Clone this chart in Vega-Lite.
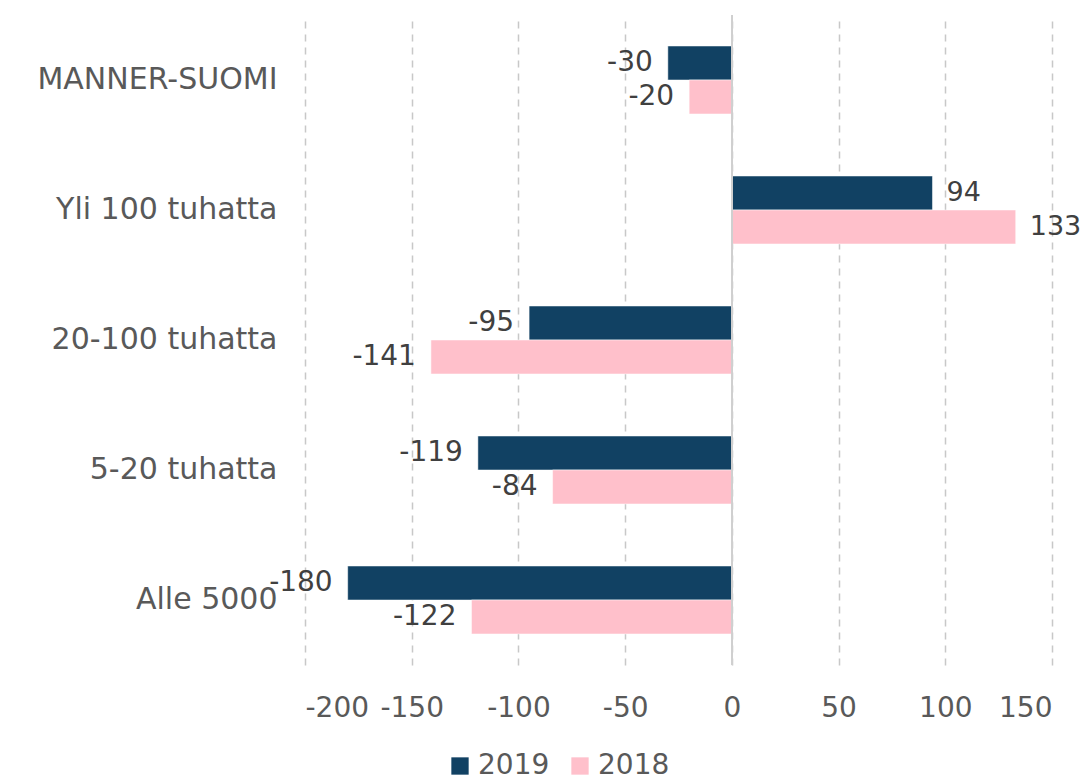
{
  "$schema": "https://vega.github.io/schema/vega-lite/v6.json",
  "autosize": {"type": "none"},
  "padding": {"left": 305, "top": 15, "right": 32, "bottom": 115},
  "width": 747,
  "height": 650,
  "config": {
    "view": {"stroke": null},
    "font": "DejaVu Sans",
    "axis": {"labelFont": "DejaVu Sans", "labelColor": "#595959", "labelFontSize": 28},
    "legend": {"labelFont": "DejaVu Sans", "labelColor": "#595959", "labelFontSize": 28}
  },
  "data": {
    "values": [
      {"cat": "MANNER-SUOMI", "year": "2019", "value": -30},
      {"cat": "MANNER-SUOMI", "year": "2018", "value": -20},
      {"cat": "Yli 100 tuhatta", "year": "2019", "value": 94},
      {"cat": "Yli 100 tuhatta", "year": "2018", "value": 133},
      {"cat": "20-100 tuhatta", "year": "2019", "value": -95},
      {"cat": "20-100 tuhatta", "year": "2018", "value": -141},
      {"cat": "5-20 tuhatta", "year": "2019", "value": -119},
      {"cat": "5-20 tuhatta", "year": "2018", "value": -84},
      {"cat": "Alle 5000", "year": "2019", "value": -180},
      {"cat": "Alle 5000", "year": "2018", "value": -122}
    ]
  },
  "encoding": {
    "y": {
      "field": "cat", "type": "nominal",
      "sort": ["MANNER-SUOMI", "Yli 100 tuhatta", "20-100 tuhatta", "5-20 tuhatta", "Alle 5000"],
      "scale": {"paddingInner": 0.477, "paddingOuter": 0.2385},
      "axis": {"title": null, "domain": false, "ticks": false, "labelPadding": 28, "labelLimit": 400, "labelFontSize": 30}
    },
    "yOffset": {"field": "year", "type": "nominal", "sort": ["2019", "2018"], "scale": {"paddingInner": 0, "paddingOuter": 0}}
  },
  "layer": [
    {
      "mark": {"type": "bar", "stroke": "white", "strokeWidth": 0.5},
      "encoding": {
        "x": {
          "field": "value", "type": "quantitative",
          "scale": {"domain": [-200, 150], "nice": false, "zero": false},
          "axis": {
            "title": null, "domain": false, "ticks": false, "values": [-200, -150, -100, -50, 0, 50, 100, 150],
            "labelExpr": "replace(datum.label, '\u2212', '-')",
            "labelPadding": 29, "grid": true, "gridColor": "#c8c8c8", "gridDash": [7, 6], "gridWidth": 1.5
          }
        },
        "color": {
          "field": "year", "type": "nominal",
          "scale": {"domain": ["2019", "2018"], "range": ["#114163", "#FFC0CB"]},
          "legend": {
            "title": null, "orient": "none", "direction": "horizontal", "legendX": 141, "legendY": 737,
            "symbolType": "square", "symbolSize": 300, "symbolStrokeWidth": 0, "columnPadding": 16, "labelOffset": 4
          }
        }
      }
    },
    {
      "mark": {"type": "rule", "color": "#d0d0d0", "strokeWidth": 1.5},
      "encoding": {"x": {"datum": 0}, "yOffset": null, "y": null}
    },
    {
      "transform": [{"filter": "datum.value < 0"}],
      "mark": {"type": "text", "align": "right", "baseline": "middle", "dx": -15, "fontSize": 28, "color": "#404040", "font": "DejaVu Sans"},
      "encoding": {"x": {"field": "value", "type": "quantitative"}, "text": {"field": "value"}}
    },
    {
      "transform": [{"filter": "datum.value >= 0"}],
      "mark": {"type": "text", "align": "left", "baseline": "middle", "dx": 14, "fontSize": 27, "color": "#404040", "font": "DejaVu Sans"},
      "encoding": {"x": {"field": "value", "type": "quantitative"}, "text": {"field": "value"}}
    }
  ]
}
